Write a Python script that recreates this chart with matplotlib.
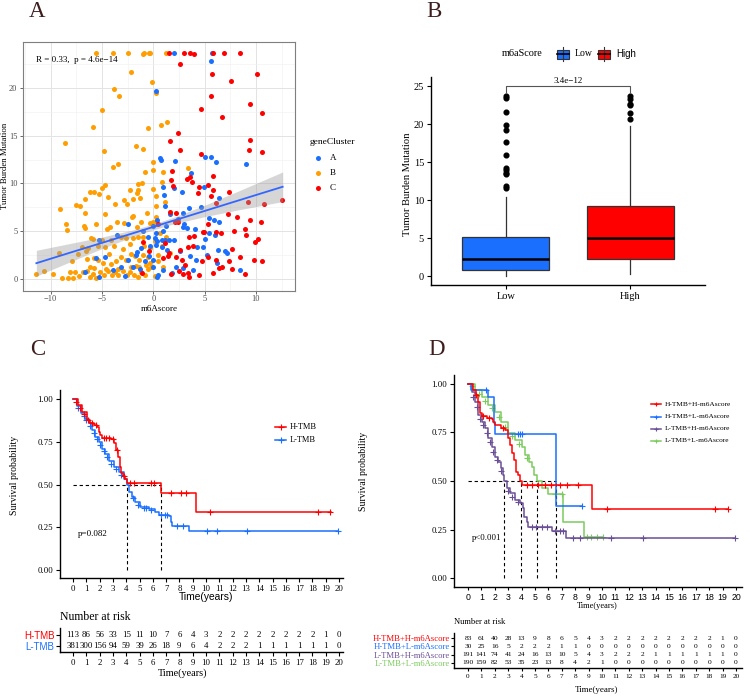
import numpy as np
import matplotlib
matplotlib.use('Agg')
import matplotlib.pyplot as plt
from matplotlib.patches import Rectangle
from matplotlib.ticker import FormatStrFormatter

# fonts / colours---------------------------------------------------------------#
SERIF = 'Liberation Serif'
SANS = 'Liberation Sans'
plt.rcParams['font.family'] = SERIF
LETTER = '#3e1d1d'
RED = '#ff0000'
BLUE = '#1a6fff'
ORANGE = '#ff9e00'
PURPLE = '#6a4f96'
GREEN = '#7ccb5e'

# panel A data: m6Ascore vs TMB by gene cluster---------------------------------#
clusterA = [(2.05,23.7),(5.7,23.7),(5.66,22.8),(0.26,19.7),(0.62,12.7),(0.75,12.5),(5.0,12.8),
    (5.6,12.8),(6.08,12.2),(8.98,12.0),(2.1,12.35),(3.67,11.1),(0.91,9.67),(2.05,9.5),(2.8,9.1),
    (4.9,9.67),(6.4,8.5),(3.5,7.4),(4.65,7.5),(2.86,6.9),(5.46,6.35),(5.95,6.2),(6.44,6.0),
    (2.86,5.48),(4.26,3.39),(4.8,3.39),(6.28,3.04),(7.0,2.9),(7.2,2.7),(4.2,2.0),(8.45,0.95),
    (0.9,0.95),(0.4,0.25),(2.2,1.3),(2.9,1.1),(1.3,3.0),(1.5,4.1),(0.4,4.0),(1.1,4.1),(2.0,4.05),
    (-0.07,5.5),(0.4,6.2),(1.2,5.5),(3.3,5.3),(4.1,5.2),(5.4,4.8),(-5.3,4.1),(-5.55,2.15),
    (-4.7,2.3),(-6.7,0.7),(-5.3,0.17),(-3.5,4.6),(-2.5,5.7),(-2.8,0.35),(-2.45,2.0),(-1.65,2.5),
    (-1.55,2.8),(-1.2,3.25),(-0.8,1.85),(-0.4,2.4),(0.13,4.3),(0.3,3.6),(-0.05,1.3),(0.5,0.4),
    (0.8,3.35),(-1.0,5.0),(-0.5,4.4),(-0.3,3.4),(0.3,4.8),(0.9,5.06),(0.8,4.1),(-2.0,1.3),
    (-1.33,1.0),(-3.2,1.3),(-3.9,0.9),(0.0,2.0),(1.1,7.6),(1.0,8.8),(2.4,6.3),(3.0,5.8),
    (3.6,2.4),(5.2,2.5),(6.2,1.7),(1.8,0.6),(3.9,0.9),(2.6,2.9),(5.0,4.2),(6.0,4.6),(1.6,6.8)]
clusterB = [(-5.6,23.7),(-3.9,23.7),(-2.5,23.7),(-0.95,23.7),(-0.46,23.7),(-0.3,23.7),(1.27,23.7),
    (-1.0,23.5),(-2.2,21.7),(-0.1,20.6),(-3.8,19.9),(-3.35,19.2),(0.3,19.5),(-5.0,17.7),(-5.9,15.9),
    (-0.5,15.8),(-8.65,14.2),(0.7,16.1),(1.37,16.4),(-1.7,13.9),(-4.8,13.4),(-1.0,13.6),(-3.4,12.0),
    (-3.9,11.7),(0.0,12.2),(-0.8,11.2),(0.0,11.4),(0.9,11.2),(3.4,11.6),(-1.1,10.0),(-1.5,9.9),
    (-4.7,9.8),(-5.0,9.5),(-2.3,9.35),(-1.5,9.3),(0.0,9.45),(-5.8,9.1),(-6.2,9.05),(-4.4,8.55),
    (-5.3,8.9),(-1.55,9.0),(-9.1,7.3),(-7.5,7.7),(-7.1,7.65),(-6.7,8.4),(-3.7,7.8),(-2.9,8.3),
    (-2.6,7.8),(-2.0,8.4),(-1.3,8.5),(0.8,10.1),(-8.5,5.8),(-8.4,5.1),(-6.65,6.9),(-6.8,5.5),
    (-6.7,5.3),(-4.7,6.8),(-5.55,5.7),(-3.5,6.0),(-2.9,5.9),(-2.1,6.5),(-2.0,6.6),(-1.2,6.0),
    (-0.35,5.9),(0.0,6.0),(0.3,6.0),(-4.5,5.2),(-4.2,5.4),(-1.6,5.4),(-0.6,6.9),(0.3,6.5),
    (-6.1,4.3),(-5.9,4.2),(-5.0,4.1),(-4.1,4.1),(-3.2,4.4),(-2.7,4.3),(-2.0,4.3),(-1.5,4.4),
    (-1.0,4.4),(-7.0,3.35),(-6.4,3.25),(-5.4,3.4),(-4.7,3.3),(-3.8,3.4),(-9.2,2.7),(-7.35,2.65),
    (-6.5,2.1),(-5.8,2.2),(-5.4,2.0),(-4.9,1.7),(-4.1,1.6),(-3.6,1.85),(-3.2,2.3),(-2.7,2.0),
    (-2.2,2.6),(-1.8,2.4),(-1.4,2.0),(-1.0,2.55),(-0.55,2.3),(-0.35,1.7),(-8.1,0.7),(-7.6,0.7),
    (-7.25,0.35),(-6.9,0.7),(-6.5,0.8),(-6.2,0.2),(-5.9,0.5),(-5.55,0.15),(-5.2,0.7),(-4.85,0.4),
    (-4.45,0.8),(-4.05,0.4),(-3.7,0.7),(-3.4,0.4),(-3.0,0.85),(-2.6,0.4),(-2.25,0.7),(-1.85,0.4),
    (-1.5,0.2),(-1.2,0.7),(-0.8,0.4),(-0.5,1.0),(-11.4,0.5),(-10.7,0.8),(-9.8,0.5),(-8.9,0.1),
    (-8.3,0.07),(-7.8,0.1),(-6.2,1.3),(-5.75,1.1),(-4.6,1.05),(-3.4,1.05),(-2.15,1.3),(-1.35,1.2),
    (-0.7,1.5),(-0.2,1.3),(0.45,1.85),(0.95,1.3),(1.6,2.7),(0.8,3.4),(1.2,4.4),(0.6,4.8),
    (0.15,4.0),(0.3,7.6),(1.1,8.1),(0.3,8.65),(-6.6,2.9),(-3.0,3.1),(-2.3,3.7),(-0.3,3.2),
    (0.5,2.5),(-7.9,1.9),(-4.3,2.6),(-1.7,1.4),(-0.9,3.5),(0.2,0.3)]
clusterC = [(1.56,23.7),(3.02,23.7),(3.58,23.7),(4.0,23.5),(5.85,23.7),(6.93,23.7),(8.45,23.7),
    (2.63,22.5),(5.72,21.5),(10.1,21.4),(7.6,20.7),(5.6,19.1),(9.43,18.3),(10.6,17.4),(4.68,17.8),
    (6.7,16.9),(2.4,15.25),(1.66,14.4),(2.6,13.5),(9.4,14.5),(9.36,13.5),(10.56,13.3),(4.6,13.1),
    (3.58,10.7),(3.74,10.2),(3.3,10.5),(1.79,11.3),(1.72,10.4),(5.85,10.8),(4.4,9.6),(5.3,9.8),
    (5.8,9.3),(5.6,8.65),(6.1,7.9),(7.35,9.15),(4.33,9.0),(9.2,8.1),(10.8,7.8),(12.55,8.3),
    (2.2,6.9),(1.63,7.05),(2.15,6.0),(2.4,6.0),(5.33,5.76),(8.13,6.46),(9.46,6.14),(10.5,5.97),
    (7.3,6.77),(4.9,4.9),(6.1,4.9),(6.6,4.85),(7.9,5.0),(8.9,5.27),(8.98,4.6),(4.8,4.9),(3.5,4.36),
    (4.0,4.5),(9.95,3.84),(10.2,4.15),(3.35,3.39),(3.85,3.45),(7.67,3.1),(8.4,2.27),(6.1,2.0),
    (5.33,2.3),(6.4,1.1),(6.7,1.3),(7.4,1.92),(9.85,2.0),(10.6,1.9),(7.64,1.0),(5.8,0.6),(8.97,0.56),
    (4.4,0.45),(3.35,0.6),(3.5,0.25),(2.93,0.5),(2.45,0.8),(1.76,0.5),(2.8,2.0),(0.98,2.2),(1.4,2.4),
    (2.2,2.27),(1.55,2.7),(2.6,3.0),(-1.04,3.9),(-0.39,2.96),(-1.1,0.6),(0.42,5.8),(1.1,3.8),
    (3.1,1.5),(4.7,1.9),(1.9,9.7)]
fit_x = [-11.4, -8, -5, -2, 0, 2, 5, 8, 12.6]
fit_y = [1.65, 2.79, 3.78, 4.78, 5.45, 6.12, 7.12, 8.12, 9.65]
fit_lo = [0.3, 1.84, 3.18, 4.43, 5.15, 5.77, 6.52, 7.17, 8.1]
fit_hi = [3.0, 3.74, 4.38, 5.13, 5.75, 6.47, 7.72, 9.07, 11.2]

# panel B data: TMB by m6aScore group-------------------------------------------#
groupsB = ['Low', 'High']
boxB = [dict(whislo=0.0, q1=0.75, med=2.22, q3=5.13, whishi=10.45,
             fliers=[11.6, 11.8, 13.4, 13.6, 14.0, 14.2, 15.9, 17.7, 19.2, 19.9, 21.6, 23.4, 23.7]),
        dict(whislo=0.26, q1=2.28, med=5.0, q3=9.25, whishi=19.7,
             fliers=[20.65, 21.5, 22.5, 22.7, 23.3, 23.7])]
pB = '3.4e\u221212'

# panel C data: KM by TMB-------------------------------------------------------#
c_h_t = [0, 0.35, 0.68, 1.05, 1.3, 1.56, 1.8, 1.93, 2.06, 2.18, 2.85, 3.06, 3.2, 3.36, 3.5, 3.64,
         3.76, 3.94, 4.07, 6.6, 9.25, 19.4]
c_h_s = [1.0, 0.965, 0.925, 0.877, 0.857, 0.85, 0.837, 0.81, 0.79, 0.775, 0.765, 0.74, 0.70, 0.66,
         0.60, 0.57, 0.55, 0.534, 0.509, 0.452, 0.339, 0.339]
c_h_ct = [0.2, 0.5, 0.8, 1.1, 1.4, 1.7, 2.3, 2.5, 2.7, 3.0, 3.3, 3.85, 4.3, 4.6, 5.9, 6.1, 7.4, 8.1, 8.5, 10.3, 18.4, 19.3]
c_h_cs = [0.98, 0.95, 0.91, 0.877, 0.857, 0.85, 0.775, 0.775, 0.775, 0.765, 0.70, 0.55, 0.509, 0.509,
          0.509, 0.509, 0.452, 0.452, 0.452, 0.339, 0.339, 0.339]
c_l_t = [0, 0.3, 0.6, 0.93, 1.18, 1.43, 1.68, 1.93, 2.18, 2.43, 2.69, 3.06, 3.44, 3.8, 4.06, 4.24, 4.44,
         4.69, 5.07, 5.7, 6.2, 6.45, 7.2, 7.33, 7.45, 8.7, 19.95]
c_l_s = [1.0, 0.96, 0.92, 0.886, 0.857, 0.818, 0.779, 0.75, 0.71, 0.68, 0.64, 0.60, 0.573, 0.534, 0.50,
         0.456, 0.427, 0.397, 0.368, 0.354, 0.339, 0.323, 0.313, 0.28, 0.26, 0.227, 0.227]
c_l_ct = [0.4, 0.8, 1.0, 1.3, 1.55, 1.8, 2.05, 2.3, 2.55, 2.85, 3.2, 3.6, 4.5, 4.9, 5.3, 5.5, 5.9, 6.6,
          6.9, 7.1, 7.8, 8.3, 10.1, 10.8, 13.1, 19.95]
c_l_cs = [0.95, 0.9, 0.875, 0.84, 0.80, 0.765, 0.73, 0.695, 0.66, 0.62, 0.59, 0.555, 0.42, 0.38, 0.36,
          0.36, 0.35, 0.323, 0.323, 0.323, 0.26, 0.26, 0.227, 0.227, 0.227, 0.227]
med_c = [4.07, 6.6]
p_c = 'p=0.082'
years = list(range(21))
risk_c_lab = ['H-TMB', 'L-TMB']
risk_c = [[113, 86, 56, 33, 15, 11, 10, 7, 6, 4, 3, 2, 2, 2, 2, 2, 2, 2, 2, 1, 0],
          [381, 300, 156, 94, 59, 39, 26, 18, 9, 6, 4, 2, 2, 2, 1, 1, 1, 1, 1, 1, 0]]

# panel D data: KM by TMB + m6Ascore--------------------------------------------#
d_hh_t = [0, 0.4, 0.57, 0.77, 0.9, 1.02, 1.4, 1.77, 1.9, 2.0, 2.5, 2.76, 2.96, 3.13, 3.3, 3.43, 3.56,
          3.7, 3.88, 4.0, 9.23, 19.4]
d_hh_s = [1.0, 0.969, 0.943, 0.909, 0.849, 0.837, 0.826, 0.818, 0.806, 0.789, 0.771, 0.763, 0.72,
          0.686, 0.643, 0.608, 0.548, 0.531, 0.50, 0.479, 0.354, 0.354]
d_hh_ct = [0.6, 1.1, 1.6, 2.6, 4.4, 4.8, 5.25, 5.75, 6.2, 6.9, 7.4, 8.2, 10.35, 18.4, 19.4]
d_hh_cs = [0.943, 0.837, 0.826, 0.771, 0.479, 0.479, 0.479, 0.479, 0.479, 0.479, 0.479, 0.479,
           0.354, 0.354, 0.354]
d_hl_t = [0, 0.25, 1.5, 1.97, 2.02, 6.55, 8.5]
d_hl_s = [1.0, 0.967, 0.933, 0.80, 0.74, 0.37, 0.37]
d_hl_ct = [1.35, 3.75, 3.9, 4.0, 8.5]
d_hl_cs = [0.967, 0.74, 0.74, 0.74, 0.37]
d_lh_t = [0, 0.27, 0.52, 0.77, 1.02, 1.27, 1.52, 1.77, 2.0, 2.26, 2.46, 2.59, 2.71, 2.9, 3.13, 3.5,
          3.88, 4.08, 4.2, 4.38, 4.5, 6.24, 7.31, 19.9]
d_lh_s = [1.0, 0.96, 0.909, 0.84, 0.806, 0.771, 0.72, 0.677, 0.625, 0.596, 0.565, 0.531, 0.50, 0.462,
          0.436, 0.402, 0.385, 0.359, 0.316, 0.29, 0.261, 0.242, 0.208, 0.208]
d_lh_ct = [0.4, 0.65, 0.9, 1.15, 1.4, 1.65, 1.9, 2.15, 2.5, 3.0, 3.3, 3.7, 4.75, 5.1, 5.5, 5.87, 6.5,
           6.87, 7.1, 7.86, 8.36, 10.7, 13.1, 19.9]
d_lh_cs = [0.935, 0.88, 0.82, 0.79, 0.745, 0.70, 0.65, 0.61, 0.55, 0.45, 0.42, 0.39, 0.261, 0.261,
           0.261, 0.261, 0.242, 0.242, 0.242, 0.208, 0.208, 0.208, 0.208, 0.208]
d_ll_t = [0, 0.52, 1.02, 1.52, 2.0, 2.5, 3.0, 3.5, 4.0, 4.25, 4.55, 4.8, 4.95, 5.12, 5.55, 6.0, 7.11,
          8.68, 10.1]
d_ll_s = [1.0, 0.969, 0.935, 0.892, 0.857, 0.806, 0.746, 0.711, 0.677, 0.634, 0.596, 0.574, 0.531,
          0.50, 0.462, 0.431, 0.29, 0.213, 0.213]
d_ll_ct = [0.3, 0.8, 1.3, 1.8, 2.3, 2.8, 3.3, 3.8, 4.4, 6.5, 7.0, 8.9, 9.2, 9.6, 10.05]
d_ll_cs = [0.99, 0.95, 0.91, 0.875, 0.83, 0.78, 0.73, 0.69, 0.62, 0.431, 0.431, 0.213, 0.213, 0.213, 0.213]
med_d = [2.71, 3.95, 5.12, 6.55]
p_d = 'p<0.001'
risk_d_lab = ['H-TMB+H-m6Ascore', 'H-TMB+L-m6Ascore', 'L-TMB+H-m6Ascore', 'L-TMB+L-m6Ascore']
risk_d = [[83, 61, 40, 28, 13, 9, 8, 6, 5, 4, 3, 2, 2, 2, 2, 2, 2, 2, 2, 1, 0],
          [30, 25, 16, 5, 2, 2, 2, 1, 1, 0, 0, 0, 0, 0, 0, 0, 0, 0, 0, 0, 0],
          [191, 141, 74, 41, 24, 16, 13, 10, 5, 4, 3, 2, 2, 2, 1, 1, 1, 1, 1, 1, 0],
          [190, 159, 82, 53, 35, 23, 13, 8, 4, 2, 1, 0, 0, 0, 0, 0, 0, 0, 0, 0, 0]]

# layout helpers----------------------------------------------------------------#
W, H = 750, 696
fig = plt.figure(figsize=(7.5, 6.96), dpi=100)

def box(l, t, r, b):
    return [l / W, 1 - b / H, (r - l) / W, (b - t) / H]

def classic(ax):
    for s in ['top', 'right']:
        ax.spines[s].set_visible(False)
    for s in ['left', 'bottom']:
        ax.spines[s].set_linewidth(1.0)
        ax.spines[s].set_color('black')

def km(ax, t, s, ct, cs, col):
    ax.step(t, s, where='post', color=col, lw=1.1, zorder=3)
    ax.plot(ct, cs, ls='none', marker='+', ms=4, mew=0.8, color=col, zorder=3)

# panel A-----------------------------------------------------------------------#
axA = fig.add_axes(box(23, 42, 295, 291))
axA.set_xlim(-12.7, 13.8)
axA.set_ylim(-1.26, 24.8)
axA.set_xticks([-10, -5, 0, 5, 10])
axA.set_xticks([-12.5, -7.5, -2.5, 2.5, 7.5, 12.5], minor=True)
axA.set_yticks([0, 5, 10, 15, 20])
axA.set_yticks([2.5, 7.5, 12.5, 17.5, 22.5], minor=True)
axA.grid(which='major', color='#e3e3e3', lw=0.7)
axA.grid(which='minor', color='#f0f0f0', lw=0.4)
axA.set_axisbelow(True)
for sp in axA.spines.values():
    sp.set_color('#7f7f7f')
    sp.set_linewidth(0.8)
axA.tick_params(length=2.5, width=0.6, color='#4d4d4d', labelsize=6, labelcolor='#4d4d4d', pad=1.5)
axA.tick_params(axis='x', length=2, pad=1)
axA.tick_params(which='minor', length=0)
for pts, col in [(clusterB, ORANGE), (clusterA, BLUE), (clusterC, RED)]:
    xs, ys = zip(*pts)
    axA.scatter(xs, ys, s=13, color=col, lw=0, zorder=2)
axA.fill_between(fit_x, fit_lo, fit_hi, color='#9a9a9a', alpha=0.4, lw=0, zorder=3)
axA.plot(fit_x, fit_y, color='#3366ff', lw=1.3, zorder=4)
axA.text(-11.4, 22.9, 'R = 0.33,  p = 4.6e\u221214', fontsize=6.5, va='center', ha='left')

# panel B-----------------------------------------------------------------------#
axB = fig.add_axes(box(431, 77, 705, 285))
bp = axB.bxp(boxB, positions=[1, 2], widths=0.7, patch_artist=True, showcaps=False,
             boxprops=dict(edgecolor='#333333', linewidth=0.9),
             medianprops=dict(color='black', linewidth=1.8),
             whiskerprops=dict(color='#333333', linewidth=0.9),
             flierprops=dict(marker='o', markerfacecolor='black', markeredgecolor='black', markersize=3.4))
for patch, col in zip(bp['boxes'], [BLUE, RED]):
    patch.set_facecolor(col)
axB.set_xlim(0.4, 2.6)
axB.set_ylim(-1.18, 26.2)
axB.set_yticks([0, 5, 10, 15, 20, 25])
axB.set_xticks([1, 2])
axB.set_xticklabels(groupsB)
classic(axB)
axB.tick_params(length=3, width=0.8, labelsize=7.5, pad=2)
sig_top, sig_foot = 25.0, 24.1
axB.plot([1, 1, 2, 2], [sig_foot, sig_top, sig_top, sig_foot], color='#555555', lw=0.8)
axB.text(1.5, sig_top + 0.2, pB, ha='center', va='bottom', fontsize=6.5)

# panel C-----------------------------------------------------------------------#
axC = fig.add_axes(box(60, 390, 343, 578))
axC.set_xlim(-0.98, 20.3)
axC.set_ylim(-0.047, 1.053)
axC.plot([0, med_c[-1]], [0.5, 0.5], color='black', lw=0.8, ls=(0, (3, 2.5)), zorder=2)
for m in med_c:
    axC.plot([m, m], [0, 0.5], color='black', lw=0.8, ls=(0, (3, 2.5)), zorder=2)
km(axC, c_l_t, c_l_s, c_l_ct, c_l_cs, BLUE)
km(axC, c_h_t, c_h_s, c_h_ct, c_h_cs, RED)
axC.set_xticks(years)
axC.set_yticks([0, 0.25, 0.5, 0.75, 1.0])
axC.yaxis.set_major_formatter(FormatStrFormatter('%.2f'))
classic(axC)
axC.tick_params(length=3, width=0.8, labelsize=6.3, pad=2)
axC.text(1.5, 0.21, p_c, ha='center', va='center', fontsize=6.5)

axCr = fig.add_axes(box(60, 628, 343, 652))
axCr.set_xlim(-0.98, 20.3)
axCr.set_ylim(1.55, -0.64)
for i, row in enumerate(risk_c):
    for t, n in zip(years, row):
        axCr.text(t, i, str(n), ha='center', va='center', fontsize=6.3)
axCr.set_xticks(years)
axCr.set_yticks([0, 1])
axCr.set_yticklabels(risk_c_lab)
classic(axCr)
axCr.tick_params(length=3, width=0.8, labelsize=6.3, pad=2)
axCr.tick_params(axis='y', labelsize=7, labelfontfamily=SANS, pad=1)
for lab, col in zip(axCr.get_yticklabels(), [RED, BLUE]):
    lab.set_color(col)

# panel D-----------------------------------------------------------------------#
axD = fig.add_axes(box(454, 375, 742, 587))
axD.set_xlim(-1.04, 20.45)
axD.set_ylim(-0.046, 1.046)
axD.plot([0, med_d[-1]], [0.5, 0.5], color='black', lw=0.8, ls=(0, (3, 2.5)), zorder=2)
for m in med_d:
    axD.plot([m, m], [0, 0.5], color='black', lw=0.8, ls=(0, (3, 2.5)), zorder=2)
km(axD, d_ll_t, d_ll_s, d_ll_ct, d_ll_cs, GREEN)
km(axD, d_lh_t, d_lh_s, d_lh_ct, d_lh_cs, PURPLE)
km(axD, d_hl_t, d_hl_s, d_hl_ct, d_hl_cs, BLUE)
km(axD, d_hh_t, d_hh_s, d_hh_ct, d_hh_cs, RED)
axD.set_xticks(years)
axD.set_yticks([0, 0.25, 0.5, 0.75, 1.0])
axD.yaxis.set_major_formatter(FormatStrFormatter('%.2f'))
classic(axD)
axD.tick_params(length=3, width=0.8, labelsize=6.3, pad=2)
axD.tick_params(axis='x', labelfontfamily=SANS, labelsize=6.3, pad=1.5, length=2.5)
axD.text(1.4, 0.206, p_d, ha='center', va='center', fontsize=6.3)

axDr = fig.add_axes(box(454, 633, 742, 668))
axDr.set_xlim(-1.04, 20.45)
axDr.set_ylim(3.6, -0.6)
for i, row in enumerate(risk_d):
    for t, n in zip(years, row):
        axDr.text(t, i, str(n), ha='center', va='center', fontsize=5.4)
axDr.set_xticks(years)
axDr.set_yticks([0, 1, 2, 3])
axDr.set_yticklabels(risk_d_lab)
classic(axDr)
axDr.tick_params(length=2.5, width=0.8, labelsize=5.2, pad=2)
axDr.tick_params(axis='y', labelsize=6.2, pad=0.5)
for lab, col in zip(axDr.get_yticklabels(), [RED, BLUE, PURPLE, GREEN]):
    lab.set_color(col)

# overlay: letters, titles, legends---------------------------------------------#
ov = fig.add_axes([0, 0, 1, 1], zorder=10)
ov.set_xlim(0, W)
ov.set_ylim(H, 0)
ov.axis('off')

for s, x, y in [('A', 37, 17), ('B', 434, 17), ('C', 38, 355), ('D', 437, 355)]:
    ov.text(x, y, s, fontsize=16.5, color=LETTER, ha='center', va='baseline')

ov.text(159, 309, 'm6Ascore', fontsize=6.5, ha='center', va='center')
ov.text(5, 166, 'Tumor Burden Mutation', fontsize=6.3, rotation=90, ha='center', va='center')
ov.text(407, 184, 'Tumor Burden Mutation', fontsize=7.6, rotation=90, ha='center', va='center')

# legend A
ov.text(310, 142, 'geneCluster', fontsize=6.8, ha='left', va='center')
for lab, col, y in [('A', BLUE, 158), ('B', ORANGE, 173), ('C', RED, 188)]:
    ov.scatter([318], [y], s=13, color=col, lw=0)
    ov.text(330, y, lab, fontsize=6.5, ha='left', va='center')

# legend B
ov.text(502, 54, 'm6aScore', fontsize=7.4, ha='left', va='center')
for x0, col, lab, fam in [(557, BLUE, 'Low', SERIF), (598, RED, 'High', SANS)]:
    ov.plot([x0 + 6, x0 + 6], [47, 61], color='#333333', lw=0.8)
    ov.add_patch(Rectangle((x0, 49.5), 12, 9, facecolor=col, edgecolor='#333333', lw=0.8))
    ov.plot([x0, x0 + 12], [54, 54], color='black', lw=1.2)
    ov.text(x0 + 18, 54, lab, fontsize=7, family=fam, ha='left', va='center')

# C titles / legend
ov.text(15, 475, 'Survival probability', fontsize=7, rotation=90, ha='center', va='center')
ov.text(206, 597, 'Time(years)', fontsize=7.4, family=SANS, ha='center', va='center')
ov.text(60, 617, 'Number at risk', fontsize=8.5, ha='left', va='center')
ov.text(183, 673, 'Time(years)', fontsize=7.4, ha='center', va='center')
for lab, col, y in [('H-TMB', RED, 427), ('L-TMB', BLUE, 440)]:
    ov.plot([275, 286], [y, y], color=col, lw=1.1)
    ov.plot([280.5], [y], marker='+', ms=4, mew=0.8, color=col)
    ov.text(290, y, lab, fontsize=6, ha='left', va='center')

# D titles / legend
ov.text(363, 471, 'Survival probability', fontsize=7, rotation=90, ha='center', va='center')
ov.text(597, 606, 'Time(years)', fontsize=6, ha='center', va='center')
ov.text(454, 622, 'Number at risk', fontsize=6.1, ha='left', va='center')
ov.text(597, 690, 'Time(years)', fontsize=6.5, ha='center', va='center')
for lab, col, y in zip(risk_d_lab, [RED, BLUE, PURPLE, GREEN], [404, 416.5, 429, 441]):
    ov.plot([651, 661], [y, y], color=col, lw=1.1)
    ov.plot([656], [y], marker='+', ms=3.5, mew=0.8, color=col)
    ov.text(665, y, lab, fontsize=5.3, ha='left', va='center')

fig.savefig('out.png', dpi=100)
